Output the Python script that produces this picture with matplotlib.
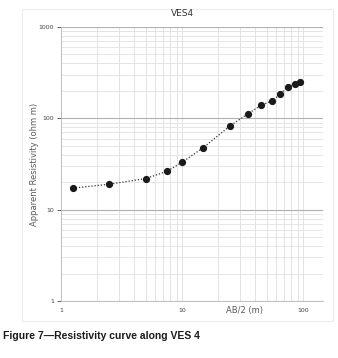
import matplotlib
matplotlib.use("Agg")
import matplotlib.pyplot as plt
from matplotlib.patches import Rectangle
import numpy as np

ab2 = [1.25, 2.5, 5, 7.5, 10, 15, 25, 35, 45, 55, 65, 75, 85, 95]
rho = [17.2, 19, 21.9, 26.3, 33, 47.8, 83, 112, 139, 155, 184, 222, 240, 252]
xticks = [1, 10, 100]
yticks = [1, 10, 100, 1000]

fig = plt.figure(figsize=(3.38, 3.58), dpi=100)
fig.patch.set_facecolor("white")
# chart frame
fig.patches.append(Rectangle((22/338, 1-321/358), (333-22)/338, (321-9)/358,
                             transform=fig.transFigure, fill=False,
                             edgecolor="#ececec", linewidth=0.8))
ax = fig.add_axes([61/338, 1-301/358, (323-61)/338, (301-27)/358])
ax.set_xscale("log")
ax.set_yscale("log")
ax.set_xlim(1, 146)
ax.set_ylim(1, 1000)

ax.plot(ab2, rho, linestyle=(0, (1, 1.5)), color="#333333", linewidth=0.9,
        marker="o", markersize=4.2, markerfacecolor="#1a1a1a",
        markeredgecolor="#1a1a1a", zorder=5)

ax.set_xticks(xticks)
ax.set_xticklabels([str(v) for v in xticks])
ax.set_yticks(yticks)
ax.set_yticklabels([str(v) for v in yticks])
ax.xaxis.set_minor_locator(matplotlib.ticker.LogLocator(base=10, subs=np.arange(2, 10)))
ax.yaxis.set_minor_locator(matplotlib.ticker.LogLocator(base=10, subs=np.arange(2, 10)))
ax.xaxis.set_minor_formatter(matplotlib.ticker.NullFormatter())
ax.yaxis.set_minor_formatter(matplotlib.ticker.NullFormatter())

ax.grid(True, axis="x", which="both", color="#dedede", linewidth=0.6)
ax.grid(True, axis="y", which="minor", color="#e2e2e2", linewidth=0.6)
ax.grid(True, axis="y", which="major", color="#b0b0b0", linewidth=0.8)
ax.set_axisbelow(True)

for s in ["top", "right"]:
    ax.spines[s].set_visible(False)
for s in ["left", "bottom"]:
    ax.spines[s].set_color("#bdbdbd")
    ax.spines[s].set_linewidth(0.7)

ax.tick_params(axis="both", which="major", labelsize=4.5, colors="#444444", length=3,
               width=0.6, pad=2)
ax.tick_params(axis="x", which="major", length=0, pad=5)
ax.tick_params(axis="both", which="minor", length=0)
for lab in ax.get_xticklabels() + ax.get_yticklabels():
    lab.set_color("#444444")

ax.set_ylabel("Apparent Resistivity (ohm m)", fontsize=6, color="#595959", labelpad=0)
ax.text(245/338, 1-310/358, "AB/2 (m)", transform=fig.transFigure, fontsize=6,
        color="#595959", ha="center", va="center")
fig.text(182/338, 1-14/358, "VES4", fontsize=6.5, color="#333333",
         ha="center", va="center")
fig.text(3/338, 1-336/358, "Figure 7\u2014Resistivity curve along VES 4",
         fontsize=7.5, fontweight="bold",
         family=["Liberation Sans Narrow", "Liberation Sans", "DejaVu Sans"],
         color="#1a1a1a", ha="left", va="center")

fig.savefig("out.png", dpi=100, facecolor="white")
